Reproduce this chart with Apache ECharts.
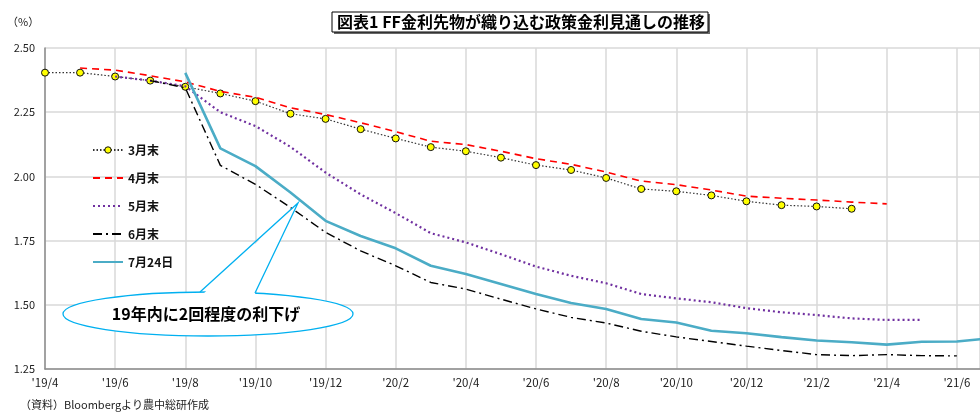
<!DOCTYPE html>
<html>
<head>
<meta charset="utf-8">
<script src="https://cdn.jsdelivr.net/npm/echarts@6/dist/echarts.min.js"></script>
<style>
  html, body { margin: 0; padding: 0; background: #fff; }
  #chart { width: 980px; height: 412px; }
</style>
</head>
<body>
<div id="chart"></div>
<script>
// Monthly axis from 2019/4 to 2021/7
const months = ["'19/4","'19/5","'19/6","'19/7","'19/8","'19/9","'19/10","'19/11","'19/12",
  "'20/1","'20/2","'20/3","'20/4","'20/5","'20/6","'20/7","'20/8","'20/9","'20/10","'20/11","'20/12",
  "'21/1","'21/2","'21/3","'21/4","'21/5","'21/6","'21/7"];

const seriesNames = ['3月末', '4月末', '5月末', '6月末', '7月24日'];

// Implied policy rate path (%) as priced at each date; null = not priced yet / beyond horizon
const endMarch = [2.404, 2.404, 2.389, 2.373, 2.349, 2.323, 2.293, 2.244, 2.224, 2.184, 2.148, 2.114,
  2.098, 2.073, 2.044, 2.025, 1.994, 1.951, 1.942, 1.926, 1.903, 1.888, 1.883, 1.874,
  null, null, null, null];
const endApril = [null, 2.422, 2.414, 2.392, 2.368, 2.331, 2.308, 2.267, 2.241, 2.209, 2.174, 2.137,
  2.124, 2.098, 2.069, 2.047, 2.017, 1.982, 1.968, 1.947, 1.923, 1.915, 1.908, 1.900,
  1.893, null, null, null];
const endMay = [null, null, 2.389, 2.373, 2.351, 2.250, 2.196, 2.115, 2.015, 1.930, 1.857, 1.779,
  1.743, 1.697, 1.649, 1.613, 1.584, 1.542, 1.525, 1.510, 1.487, 1.471, 1.460, 1.447,
  1.441, 1.441, null, null];
const endJune = [null, null, null, 2.373, 2.345, 2.043, 1.969, 1.879, 1.782, 1.710, 1.652, 1.587,
  1.561, 1.522, 1.484, 1.451, 1.429, 1.397, 1.375, 1.357, 1.339, 1.322, 1.306, 1.302,
  1.306, 1.302, 1.301, null];
const july24 = [null, null, null, null, 2.403, 2.109, 2.040, 1.937, 1.827, 1.768, 1.720, 1.652,
  1.620, 1.581, 1.542, 1.507, 1.484, 1.445, 1.431, 1.399, 1.389, 1.374, 1.361, 1.354,
  1.345, 1.356, 1.357, 1.370];

const yTicks = [1.25, 1.50, 1.75, 2.00, 2.25, 2.50];

const JP = '"Noto Sans CJK JP", "Liberation Sans", sans-serif';

// month index -> [index, value] pairs, skipping months with no quote
const toPairs = arr => arr.map((v, i) => v == null ? null : [i, v]).filter(p => p);

const chart = echarts.init(document.getElementById('chart'), null, { renderer: 'canvas' });

// legend entries: only the first series shows a marker next to its line
const hidden = { opacity: 0 };
const legendData = seriesNames.map((n, i) =>
  i === 0 ? { name: n, itemStyle: { borderWidth: 1 } } : { name: n, itemStyle: hidden });

chart.setOption({
  animation: false,
  backgroundColor: '#ffffff',
  textStyle: { fontFamily: JP },
  grid: { left: 45, top: 48, bottom: 43, right: 0 },
  xAxis: {
    type: 'value',
    min: 0,
    // the visible window ends part-way through the final month
    max: 26.66,
    interval: 2,
    axisLine: { show: true, lineStyle: { color: '#8c8c8c', width: 1.5 } },
    axisTick: { show: false },
    axisLabel: { color: '#222', fontSize: 11.5, fontFamily: JP, margin: 8,
      showMaxLabel: false, formatter: v => months[v] || '' },
    splitLine: { show: true, lineStyle: { color: '#d9d9d9', width: 1.5 } }
  },
  yAxis: {
    type: 'value',
    min: yTicks[0],
    max: yTicks[yTicks.length - 1],
    interval: 0.25,
    axisLine: { show: true, lineStyle: { color: '#8c8c8c', width: 1.5 } },
    axisTick: { show: false },
    axisLabel: { color: '#222', fontSize: 11, fontFamily: JP, margin: 10,
      formatter: v => v.toFixed(2) },
    splitLine: { show: true, lineStyle: { color: '#d9d9d9', width: 1.5 } }
  },
  legend: {
    orient: 'vertical',
    left: 92,
    top: 144,
    padding: 0,
    itemWidth: 30,
    itemHeight: 8,
    itemGap: 16,
    textStyle: { color: '#111', fontSize: 12, fontWeight: 'bold', fontFamily: JP },
    data: legendData
  },
  series: [
    {
      name: seriesNames[0], type: 'line', data: toPairs(endMarch), z: 2,
      symbol: 'circle', symbolSize: 7, showSymbol: true,
      lineStyle: { color: '#333', width: 1.2, type: [1.5, 2] },
      itemStyle: { color: '#ffff00', borderColor: '#111', borderWidth: 1 }
    },
    {
      name: seriesNames[1], type: 'line', data: toPairs(endApril), z: 3, symbol: 'none',
      lineStyle: { color: '#ff0000', width: 1.6, type: [7, 5] },
      itemStyle: { color: '#ff0000' }
    },
    {
      name: seriesNames[2], type: 'line', data: toPairs(endMay), z: 3, symbol: 'none',
      lineStyle: { color: '#7030a0', width: 2.2, type: [2, 3] },
      itemStyle: { color: '#7030a0' }
    },
    {
      name: seriesNames[3], type: 'line', data: toPairs(endJune), z: 3, symbol: 'none',
      lineStyle: { color: '#000000', width: 1.4, type: [9, 4, 2, 4] },
      itemStyle: { color: '#000000' }
    },
    {
      name: seriesNames[4], type: 'line', data: toPairs(july24), z: 4, symbol: 'none',
      lineStyle: { color: '#4bacc6', width: 2.6 },
      itemStyle: { color: '#4bacc6' }
    }
  ],
  graphic: [
    // title box with drop shadow
    { type: 'rect', shape: { x: 334, y: 14, width: 376, height: 20 }, style: { fill: '#666' }, z: 10 },
    { type: 'rect', shape: { x: 332, y: 12, width: 376, height: 20 },
      style: { fill: '#fff', stroke: '#000', lineWidth: 1 }, z: 11 },
    { type: 'text', x: 521, y: 22, z: 12,
      style: { text: '図表1 FF金利先物が織り込む政策金利見通しの推移', fill: '#000',
        font: 'bold 16px ' + JP, textAlign: 'center', textVerticalAlign: 'middle' } },
    // unit
    { type: 'text', x: 7, y: 22, z: 12,
      style: { text: '（%）', fill: '#222', font: '11px ' + JP, textVerticalAlign: 'middle' } },
    // source note
    { type: 'text', x: 20, y: 405, z: 12,
      style: { text: '（資料）Bloombergより農中総研作成', fill: '#222', font: '11px ' + JP,
        textVerticalAlign: 'middle' } },
    // callout bubble
    { type: 'ellipse', shape: { cx: 208, cy: 314, rx: 145, ry: 22 }, z: 20,
      style: { fill: '#fff', stroke: '#00b0f0', lineWidth: 1.3 } },
    { type: 'polygon', shape: { points: [[201, 296], [298, 203], [254, 296]] }, z: 21,
      style: { fill: '#fff' } },
    { type: 'polyline', shape: { points: [[200, 292], [298, 203], [255, 293]] }, z: 22,
      style: { fill: null, stroke: '#00b0f0', lineWidth: 1.3 } },
    { type: 'text', x: 206, y: 314, z: 23,
      style: { text: '19年内に2回程度の利下げ', fill: '#000', font: 'bold 16px ' + JP,
        textAlign: 'center', textVerticalAlign: 'middle' } }
  ]
});
</script>
</body>
</html>
